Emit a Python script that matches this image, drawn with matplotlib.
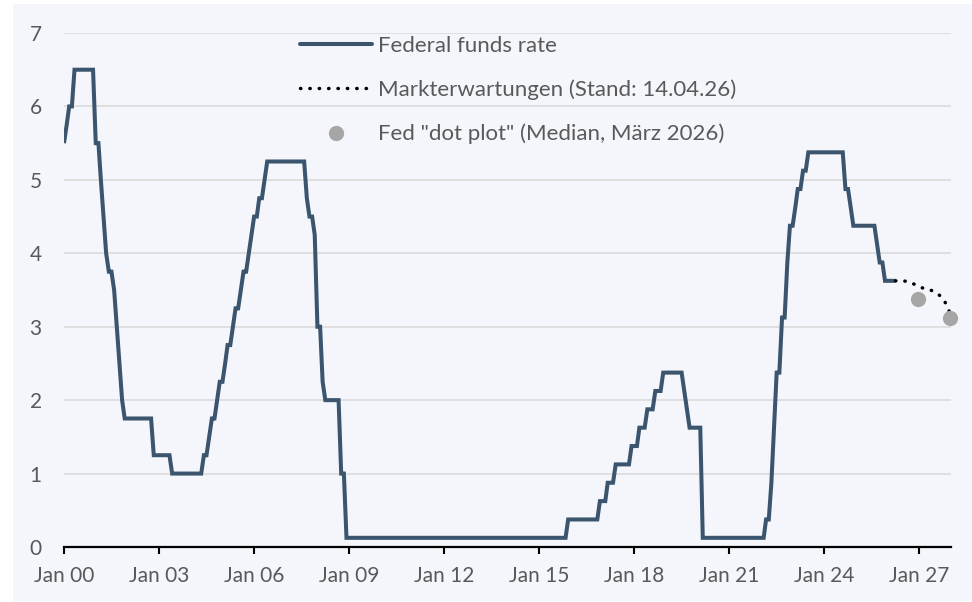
import matplotlib
matplotlib.use('Agg')
import matplotlib.pyplot as plt
import pandas as pd
from matplotlib.patches import Rectangle
from matplotlib.lines import Line2D

plt.rcParams['font.family'] = ['Lato', 'DejaVu Sans']

# ---------------- data ----------------
ffr_start = '2000-01-01'   # monthly values (target / midpoint of target range), Jan 2000 - Apr 2026
ffr_values = [
    5.5, 5.75, 6.0, 6.0, 6.5, 6.5, 6.5, 6.5, 6.5, 6.5, 6.5, 6.5,                       # 2000
    5.5, 5.5, 5.0, 4.5, 4.0, 3.75, 3.75, 3.5, 3.0, 2.5, 2.0, 1.75,                     # 2001
    1.75, 1.75, 1.75, 1.75, 1.75, 1.75, 1.75, 1.75, 1.75, 1.75, 1.25, 1.25,            # 2002
    1.25, 1.25, 1.25, 1.25, 1.25, 1.0, 1.0, 1.0, 1.0, 1.0, 1.0, 1.0,                   # 2003
    1.0, 1.0, 1.0, 1.0, 1.0, 1.25, 1.25, 1.5, 1.75, 1.75, 2.0, 2.25,                   # 2004
    2.25, 2.5, 2.75, 2.75, 3.0, 3.25, 3.25, 3.5, 3.75, 3.75, 4.0, 4.25,                # 2005
    4.5, 4.5, 4.75, 4.75, 5.0, 5.25, 5.25, 5.25, 5.25, 5.25, 5.25, 5.25,               # 2006
    5.25, 5.25, 5.25, 5.25, 5.25, 5.25, 5.25, 5.25, 4.75, 4.5, 4.5, 4.25,              # 2007
    3.0, 3.0, 2.25, 2.0, 2.0, 2.0, 2.0, 2.0, 2.0, 1.0, 1.0, 0.125,                     # 2008
    0.125, 0.125, 0.125, 0.125, 0.125, 0.125, 0.125, 0.125, 0.125, 0.125, 0.125, 0.125,  # 2009
    0.125, 0.125, 0.125, 0.125, 0.125, 0.125, 0.125, 0.125, 0.125, 0.125, 0.125, 0.125,  # 2010
    0.125, 0.125, 0.125, 0.125, 0.125, 0.125, 0.125, 0.125, 0.125, 0.125, 0.125, 0.125,  # 2011
    0.125, 0.125, 0.125, 0.125, 0.125, 0.125, 0.125, 0.125, 0.125, 0.125, 0.125, 0.125,  # 2012
    0.125, 0.125, 0.125, 0.125, 0.125, 0.125, 0.125, 0.125, 0.125, 0.125, 0.125, 0.125,  # 2013
    0.125, 0.125, 0.125, 0.125, 0.125, 0.125, 0.125, 0.125, 0.125, 0.125, 0.125, 0.125,  # 2014
    0.125, 0.125, 0.125, 0.125, 0.125, 0.125, 0.125, 0.125, 0.125, 0.125, 0.125, 0.375,  # 2015
    0.375, 0.375, 0.375, 0.375, 0.375, 0.375, 0.375, 0.375, 0.375, 0.375, 0.375, 0.625,  # 2016
    0.625, 0.625, 0.875, 0.875, 0.875, 1.125, 1.125, 1.125, 1.125, 1.125, 1.125, 1.375,  # 2017
    1.375, 1.375, 1.625, 1.625, 1.625, 1.875, 1.875, 1.875, 2.125, 2.125, 2.125, 2.375,  # 2018
    2.375, 2.375, 2.375, 2.375, 2.375, 2.375, 2.375, 2.125, 1.875, 1.625, 1.625, 1.625,  # 2019
    1.625, 1.625, 0.125, 0.125, 0.125, 0.125, 0.125, 0.125, 0.125, 0.125, 0.125, 0.125,  # 2020
    0.125, 0.125, 0.125, 0.125, 0.125, 0.125, 0.125, 0.125, 0.125, 0.125, 0.125, 0.125,  # 2021
    0.125, 0.125, 0.375, 0.375, 0.875, 1.625, 2.375, 2.375, 3.125, 3.125, 3.875, 4.375,  # 2022
    4.375, 4.625, 4.875, 4.875, 5.125, 5.125, 5.375, 5.375, 5.375, 5.375, 5.375, 5.375,  # 2023
    5.375, 5.375, 5.375, 5.375, 5.375, 5.375, 5.375, 5.375, 4.875, 4.875, 4.625, 4.375,  # 2024
    4.375, 4.375, 4.375, 4.375, 4.375, 4.375, 4.375, 4.375, 4.125, 3.875, 3.875, 3.625,  # 2025
    3.625, 3.625, 3.625, 3.625,                                                          # 2026
]

market_dates = ['2026-04-01', '2026-08-01', '2026-11-01', '2027-02-01',
                '2027-06-01', '2027-09-01', '2027-11-01', '2027-12-15']
market_values = [3.625, 3.62, 3.58, 3.53, 3.49, 3.42, 3.32, 3.20]

dot_dates = ['2026-12-15', '2027-12-15']
dot_values = [3.375, 3.125]

tick_dates = ['2000-01-01', '2003-01-01', '2006-01-01', '2009-01-01', '2012-01-01',
              '2015-01-01', '2018-01-01', '2021-01-01', '2024-01-01', '2027-01-01']
tick_labels = ['Jan 00', 'Jan 03', 'Jan 06', 'Jan 09', 'Jan 12',
               'Jan 15', 'Jan 18', 'Jan 21', 'Jan 24', 'Jan 27']
y_ticks = [0, 1, 2, 3, 4, 5, 6, 7]

series_labels = ['Federal funds rate',
                 'Markterwartungen (Stand: 14.04.26)',
                 'Fed "dot plot" (Median, März 2026)']

# ---------------- styling ----------------
LINE_C = '#3a556d'
TEXT_C = '#595959'
GRID_C = '#d9d9d9'
PANEL_C = '#f4f6fb'
FS_TICK = 15
FS_LEG = 16

fig = plt.figure(figsize=(9.72, 6.02), dpi=100)
fig.patch.set_facecolor('white')
fig.add_artist(Rectangle((13 / 972, 1 / 602), 1 - 13 / 972, 597 / 602,
                         transform=fig.transFigure, facecolor=PANEL_C,
                         edgecolor='none', zorder=0))

ax = fig.add_axes([64 / 972, 55 / 602, 887 / 972, 514 / 602])
ax.set_facecolor('none')

ffr_dates = pd.date_range(ffr_start, periods=len(ffr_values), freq='MS')
l1, = ax.plot(ffr_dates, ffr_values, color=LINE_C, lw=2.9,
              solid_joinstyle='miter', solid_capstyle='butt', zorder=3)
l2, = ax.plot(pd.to_datetime(market_dates), market_values, color='black', lw=2.5,
              linestyle=(0, (0.1, 2.6)), dash_capstyle='round', zorder=4)
l3, = ax.plot(pd.to_datetime(dot_dates), dot_values, linestyle='none', marker='o',
              markersize=11, color='#a6a6a6', markeredgewidth=0, zorder=5, clip_on=False)

ax.set_xlim(pd.Timestamp('2000-01-01'), pd.Timestamp('2028-01-01'))
ax.set_ylim(0, 7)
ax.set_yticks(y_ticks)
ax.set_yticklabels([str(v) for v in y_ticks])
ax.set_xticks(pd.to_datetime(tick_dates))
ax.set_xticklabels(tick_labels)

ax.yaxis.grid(True, color=GRID_C, lw=1.1)
ax.set_axisbelow(True)
for s in ['left', 'right', 'top']:
    ax.spines[s].set_visible(False)
ax.spines['bottom'].set_color('black')
ax.spines['bottom'].set_linewidth(1.6)
ax.spines['bottom'].set_zorder(6)

ax.tick_params(axis='y', length=0, pad=16, labelsize=FS_TICK, labelcolor=TEXT_C)
ax.tick_params(axis='x', direction='out', length=5, width=1.5, color='black',
               pad=9, labelsize=FS_TICK, labelcolor=TEXT_C)

h1 = Line2D([], [], color=LINE_C, lw=2.9, solid_capstyle='round')
h2 = Line2D([], [], color='black', lw=2.5, linestyle=(0, (0.1, 2.6)), dash_capstyle='round')
h3 = Line2D([], [], color='#a6a6a6', linestyle='none', marker='o', markersize=11,
            markeredgewidth=0)
leg = fig.legend([h1, h2, h3], series_labels, loc='upper left',
                 bbox_to_anchor=(300 / 972, 1 - 36 / 602), frameon=False,
                 fontsize=FS_LEG, handlelength=3.24, handletextpad=0.27,
                 labelspacing=1.06, borderpad=0, borderaxespad=0)
for t in leg.get_texts():
    t.set_color(TEXT_C)

fig.savefig('out.png', dpi=100, facecolor=fig.get_facecolor())
